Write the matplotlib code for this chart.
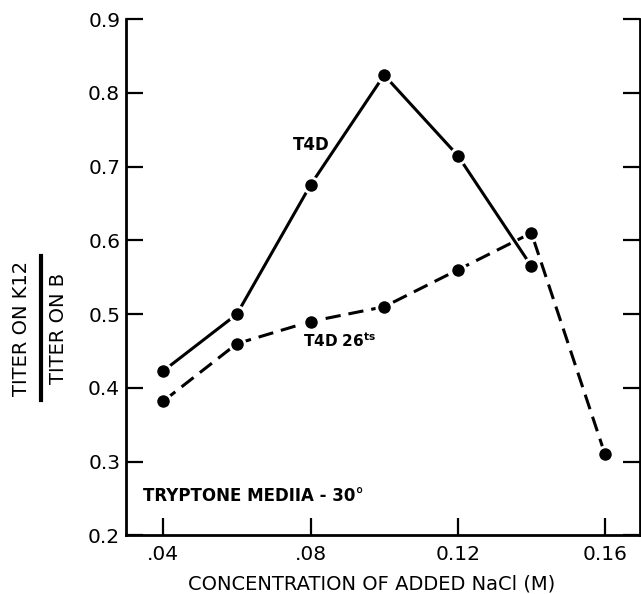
import numpy as np
from matplotlib import pyplot as plt
from matplotlib.lines import Line2D

# NaCl concentration (M) and titer ratio K12/B
conc_t4d = [0.04, 0.06, 0.08, 0.10, 0.12, 0.14]
ratio_t4d = [0.423, 0.50, 0.675, 0.824, 0.715, 0.565]

conc_ts = [0.04, 0.06, 0.08, 0.10, 0.12, 0.14, 0.16]
ratio_ts = [0.382, 0.460, 0.490, 0.510, 0.560, 0.610, 0.310]

xticks = [0.04, 0.08, 0.12, 0.16]
xtick_labels = ['.04', '.08', '0.12', '0.16']
yticks = [0.2, 0.3, 0.4, 0.5, 0.6, 0.7, 0.8, 0.9]

fig = plt.figure(figsize=(6.41, 5.94), dpi=100)
ax = fig.add_axes([0.1961, 0.0985, 0.8029, 0.8695])

ax.plot(conc_t4d, ratio_t4d, '-', color='black', lw=2.2,
        marker='o', ms=11, mfc='black', mec='white', mew=2.0)
ax.plot(conc_ts, ratio_ts, '--', color='black', lw=2.2, dashes=(5, 2.6),
        marker='o', ms=11, mfc='black', mec='white', mew=2.0)

ax.set_xlim(0.0298, 0.1696)
ax.set_ylim(0.2, 0.9)
ax.set_xticks(xticks)
ax.set_xticklabels(xtick_labels)
ax.set_yticks(yticks)
ax.set_yticklabels(['%.1f' % v for v in yticks])

ax.spines['top'].set_visible(False)
for s in ['left', 'bottom', 'right']:
    ax.spines[s].set_linewidth(2.0)
ax.tick_params(axis='both', direction='in', length=12, width=1.6,
               labelsize=14.5)
ax.tick_params(axis='y', right=True, pad=4)
ax.tick_params(axis='x', pad=7)

# x label, placed by hand (reference is slightly off-centre)
fig.text(372 / 641, 1 - 584 / 594, 'CONCENTRATION OF ADDED NaCl (M)',
         fontsize=14, ha='center', va='center')

ax.text(0.0803, 0.729, 'T4D', fontsize=12, fontweight='heavy',
        ha='center', va='center')
ax.text(0.0879, 0.464, r'T4D 26$^{\mathbf{ts}}$', fontsize=11,
        fontweight='heavy', ha='center', va='center')
ax.text(0.0344, 0.253, 'TRYPTONE MEDIIA - 30°', fontsize=12,
        fontweight='heavy', ha='left', va='center')

# fraction-style y label
yc = 1 - 328 / 594
fig.text(22 / 641, yc, 'TITER ON K12', rotation=90, fontsize=14,
         ha='center', va='center')
fig.text(59 / 641, yc, 'TITER ON B', rotation=90, fontsize=14,
         ha='center', va='center')
fig.add_artist(Line2D([41 / 641, 41 / 641], [1 - 400 / 594, 1 - 256 / 594],
                      transform=fig.transFigure, color='black', lw=3))

fig.savefig('out.png', dpi=100)
